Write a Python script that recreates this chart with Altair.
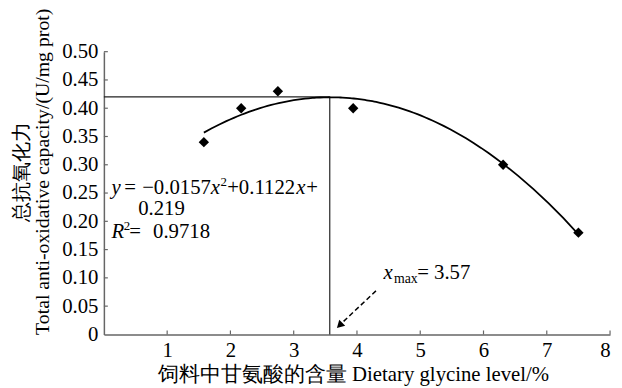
import altair as alt
import pandas as pd

# ---------------- data ----------------
glycine = [1.58, 2.17, 2.75, 3.94, 6.31, 7.50]          # Dietary glycine level, %
capacity = [0.34, 0.40, 0.43, 0.40, 0.30, 0.18]         # T-AOC, U/mg prot

x_opt = [3.57]      # x_max
y_opt = [0.42]      # maximum response

x_tick_values = [1, 2, 3, 4, 5, 6, 7, 8]
y_tick_values = [0.05, 0.10, 0.15, 0.20, 0.25, 0.30, 0.35, 0.40, 0.45, 0.50]

arrow_x = [4.30, 3.76]
arrow_y = [0.077, 0.020]
arrow_tip_x = [3.725]
arrow_tip_y = [0.016]

eq_anchor_x = [0.12]
eq_line_y = [0.248, 0.2110, 0.170]
eq_line1 = ["y", "=", "\u22120.0157", "x", "2", "+0.1122", "x", "+"]
eq_line2 = ["0.219"]
eq_line3 = ["R", "2", "=", "0.9718"]

xmax_anchor_x = [4.42]
xmax_anchor_y = [0.098]
xmax_parts = ["x", "max", "= 3.57"]

x_title = "饲料中甘氨酸的含量 Dietary glycine level/%"
y_title = ["总抗氧化力", "Total anti-oxidative capacity/(U/mg prot)"]

# ---------------- styling ----------------
SERIF = "Liberation Serif"
FS = 21
AXIS_GREY = "#666666"

xscale = alt.Scale(domain=[0, 8], nice=False, zero=False)
yscale = alt.Scale(domain=[0, 0.5], nice=False, zero=False)

xaxis = alt.Axis(
    title=x_title, values=x_tick_values, format="d", grid=False,
    tickSize=0, labelPadding=5, labelFont=SERIF, labelFontSize=FS,
    labelColor="black", domainColor=AXIS_GREY, domainWidth=1.5,
    titleFont=SERIF, titleFontSize=FS, titleFontWeight="normal",
    titleColor="black", titleX=252, titleY=47, titleBaseline="alphabetic",
)
yaxis = alt.Axis(
    title=y_title, values=[0] + y_tick_values, grid=False,
    labelExpr="datum.value == 0 ? '0' : format(datum.value, '.2f')",
    tickSize=0, labelPadding=6, labelFont=SERIF, labelFontSize=FS,
    labelColor="black", domainColor=AXIS_GREY, domainWidth=1.5,
    titleFont=SERIF, titleFontSize=20, titleFontWeight="normal",
    titleColor="black", titleX=-73, titleY=121, titleAngle=270,
    titleBaseline="bottom", titleLineHeight=21,
)


def X(field):
    return alt.X(field, type="quantitative", scale=xscale, axis=xaxis)


def Y(field):
    return alt.Y(field, type="quantitative", scale=yscale, axis=yaxis)


pts = pd.DataFrame({"glycine": glycine, "capacity": capacity})

# inward ticks
xt = alt.Chart(pd.DataFrame({"t": x_tick_values})).mark_rule(
    color=AXIS_GREY, strokeWidth=1.2
).encode(x=X("t"), y=alt.value(286), y2=alt.value(282))
yt = alt.Chart(pd.DataFrame({"t": y_tick_values})).mark_rule(
    color=AXIS_GREY, strokeWidth=1.2
).encode(y=Y("t"), x=alt.value(0), x2=alt.value(4))

# reference lines at the optimum
ref = pd.DataFrame({"x0": [0], "x1": x_opt, "y0": [0], "y1": y_opt})
hline = alt.Chart(ref).mark_rule(color="#222222", strokeWidth=1.2).encode(
    x=X("x0"), x2="x1", y=Y("y1"))
vline = alt.Chart(ref).mark_rule(color="#222222", strokeWidth=1.2).encode(
    x=X("x1"), y=Y("y0"), y2="y1")

# quadratic fit
curve = alt.Chart(pts).transform_regression(
    "glycine", "capacity", method="poly", order=2
).mark_line(color="black", strokeWidth=1.8).encode(x=X("glycine"), y=Y("capacity"))

points = alt.Chart(pts).mark_point(
    shape="diamond", filled=True, size=110, color="black", opacity=1
).encode(x=X("glycine"), y=Y("capacity"))

# dashed arrow
arr = pd.DataFrame({"x": [arrow_x[0]], "x2": [arrow_x[1]], "y": [arrow_y[0]], "y2": [arrow_y[1]]})
arrow_line = alt.Chart(arr).mark_rule(
    color="black", strokeWidth=1.5, strokeDash=[5, 3]
).encode(x=X("x"), x2="x2", y=Y("y"), y2="y2")
arrow_head = alt.Chart(pd.DataFrame({"x": arrow_tip_x, "y": arrow_tip_y})).mark_point(
    shape="triangle-up", filled=True, size=75, angle=226, color="black", opacity=1
).encode(x=X("x"), y=Y("y"))


def piece(x, y, txt, dx, dy, size, italic):
    df = pd.DataFrame({"x": [x], "y": [y], "t": [txt]})
    return alt.Chart(df).mark_text(
        align="left", baseline="alphabetic", dx=dx, dy=dy, font=SERIF,
        fontSize=size, fontStyle="italic" if italic else "normal", color="black",
    ).encode(x=X("x"), y=Y("y"), text="t:N")


texts = []
# equation line 1
l1_dx = [0, 13, 31, 100.5, 110.2, 117, 187, 197]
l1_dy = [0, 0, 0, 0, -8, 0, 0, 0]
l1_sz = [FS, FS, FS, FS, 13, FS, FS, FS]
l1_it = [True, False, False, True, False, False, True, False]
for t, dx, dy, sz, it in zip(eq_line1, l1_dx, l1_dy, l1_sz, l1_it):
    texts.append(piece(eq_anchor_x[0], eq_line_y[0], t, dx, dy, sz, it))
# line 2
texts.append(piece(eq_anchor_x[0], eq_line_y[1], eq_line2[0], 27, 0, FS, False))
# line 3
l3_dx = [0, 12.5, 18, 42]
l3_dy = [0, -8, 0, 0]
l3_sz = [FS, 13, FS, FS]
l3_it = [True, False, False, False]
for t, dx, dy, sz, it in zip(eq_line3, l3_dx, l3_dy, l3_sz, l3_it):
    texts.append(piece(eq_anchor_x[0], eq_line_y[2], t, dx, dy, sz, it))
# x_max label
xm_dx = [0, 10.5, 34]
xm_dy = [0, 4, 0]
xm_sz = [FS, 14, FS]
xm_it = [True, False, False]
for t, dx, dy, sz, it in zip(xmax_parts, xm_dx, xm_dy, xm_sz, xm_it):
    texts.append(piece(xmax_anchor_x[0], xmax_anchor_y[0], t, dx, dy, sz, it))

chart = alt.layer(
    hline, vline, curve, points, arrow_line, arrow_head, xt, yt, *texts
).properties(
    width=512, height=286,
    autosize=alt.AutoSizeParams(type="none"),
    padding={"left": 97, "top": 42, "right": 4, "bottom": 50},
    background="white",
).configure_view(stroke=None)

chart.save("out.html", embed_options={"renderer": "svg", "actions": False})
